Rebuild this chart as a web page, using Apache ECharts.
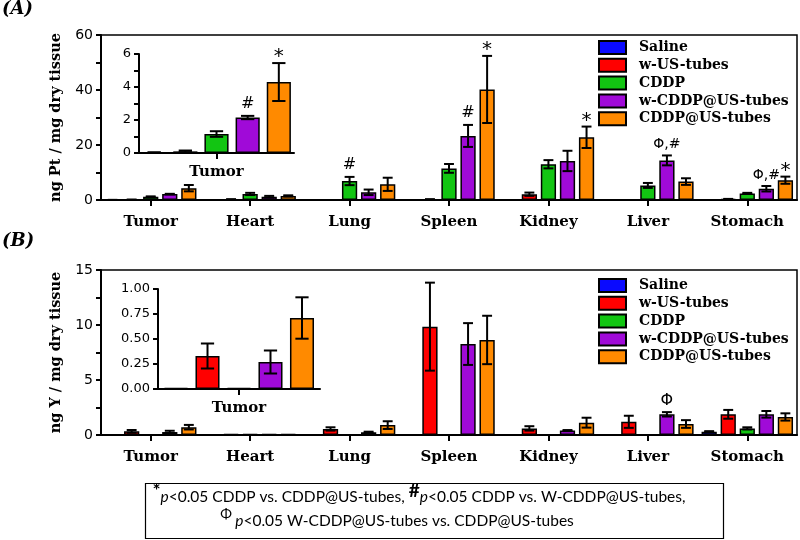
<!DOCTYPE html>
<html>
<head>
<meta charset="utf-8">
<script src="https://cdn.jsdelivr.net/npm/echarts@6/dist/echarts.min.js"></script>
<style>html,body{margin:0;padding:0;background:#fff}#c{width:800px;height:540px}</style>
</head>
<body>
<div id="c"></div>
<script>
// ---------- data ----------
const categories = ['Tumor', 'Heart', 'Lung', 'Spleen', 'Kidney', 'Liver', 'Stomach'];
const groups = ['Saline', 'w-US-tubes', 'CDDP', 'w-CDDP@US-tubes', 'CDDP@US-tubes'];

// Panel A: ng Pt / mg dry tissue
const ptSaline    = [0.03, 0,   0,   0.1,  0.1,  0,    0.05];
const ptWUS       = [0.1,  0.2, 0,   0.2,  2.1,  0,    0.3];
const ptCDDP      = [1.15, 2.2, 6.9, 11.5, 13.0, 5.3,  2.4];
const ptWCDDP     = [2.15, 1.2, 2.8, 23.3, 14.2, 14.4, 4.1];
const ptCDDPUS    = [4.3,  1.5, 5.7, 40.2, 22.8, 6.7,  7.2];
const ptSalineErr = [0.01, 0,   0,   0,    0,    0,    0];
const ptWUSErr    = [0.05, 0.1, 0,   0.1,  0.6,  0,    0.1];
const ptCDDPErr   = [0.17, 0.4, 1.5, 1.6,  1.5,  0.9,  0.2];
const ptWCDDPErr  = [0.1,  0.3, 1.0, 4.0,  3.7,  1.8,  1.0];
const ptCDDPUSErr = [1.15, 0.2, 2.4, 12.2, 3.9,  1.2,  1.3];
const ptTicks = [0, 20, 40, 60];
const ptInsetTicks = [0, 2, 4, 6];
const ptMarks = [
  ['Lung', 'CDDP', '#'], ['Spleen', 'w-CDDP@US-tubes', '#'], ['Spleen', 'CDDP@US-tubes', '*'],
  ['Kidney', 'CDDP@US-tubes', '*'], ['Liver', 'w-CDDP@US-tubes', 'Φ,#'],
  ['Stomach', 'w-CDDP@US-tubes', 'Φ,#'], ['Stomach', 'CDDP@US-tubes', '*']
];
const ptInsetMarks = [['Tumor', 'w-CDDP@US-tubes', '#'], ['Tumor', 'CDDP@US-tubes', '*']];

// Panel B: ng Y / mg dry tissue
const ySaline    = [0.01, 0,    0,    0.05, 0,    0,    0.3];
const yWUS       = [0.33, 0.08, 0.55, 9.85, 0.6,  1.2,  1.88];
const yCDDP      = [0.01, 0.08, 0.03, 0.05, 0.02, 0,    0.6];
const yWCDDP     = [0.27, 0.08, 0.25, 8.27, 0.4,  1.88, 1.88];
const yCDDPUS    = [0.71, 0.08, 0.9,  8.64, 1.12, 1.0,  1.64];
const ySalineErr = [0,    0,    0,    0,    0,    0,    0.05];
const yWUSErr    = [0.125,0,    0.15, 4.0,  0.2,  0.55, 0.4];
const yCDDPErr   = [0,    0,    0,    0,    0,    0,    0.1];
const yWCDDPErr  = [0.115,0,    0.05, 1.9,  0.05, 0.2,  0.3];
const yCDDPUSErr = [0.207,0,    0.35, 2.2,  0.45, 0.35, 0.33];
const yTicks = [0, 5, 10, 15];
const yInsetTicks = [0, 0.25, 0.5, 0.75, 1.0];
const yMarks = [['Liver', 'w-CDDP@US-tubes', 'Φ']];

// ---------- styles ----------
const colors = ['#0a0aff', '#ff0000', '#12c512', '#a00ad8', '#ff8a00'];
const serifBold = { fontFamily: 'DejaVu Serif', fontWeight: 'bold', color: '#000' };

const ptMeans = [ptSaline, ptWUS, ptCDDP, ptWCDDP, ptCDDPUS];
const ptErrs = [ptSalineErr, ptWUSErr, ptCDDPErr, ptWCDDPErr, ptCDDPUSErr];
const yMeans = [ySaline, yWUS, yCDDP, yWCDDP, yCDDPUS];
const yErrs = [ySalineErr, yWUSErr, yCDDPErr, yWCDDPErr, yCDDPUSErr];

function barX(api, c, s, catGap, barGap) {
  const band = api.size([1, 0])[0];
  const bw = band * (1 - catGap) / (5 + 4 * barGap);
  return { x: api.coord([c, 0])[0] + (s - 2) * bw * (1 + barGap), bw: bw };
}
function errRender(catGap, barGap, capFrac) {
  return function (params, api) {
    const c = api.value(0), v = api.value(1), e = api.value(2), s = api.value(3);
    if (!(e > 0)) return { type: 'group', children: [] };
    const p = barX(api, c, s, catGap, barGap);
    const yt = api.coord([c, v + e])[1];
    const yl = api.coord([c, Math.max(0, v - e)])[1];
    const h = p.bw * capFrac / 2;
    const st = { stroke: '#000', lineWidth: 2 };
    return { type: 'group', children: [
      { type: 'line', shape: { x1: p.x, y1: yt, x2: p.x, y2: yl }, style: st },
      { type: 'line', shape: { x1: p.x - h, y1: yt, x2: p.x + h, y2: yt }, style: st },
      { type: 'line', shape: { x1: p.x - h, y1: yl, x2: p.x + h, y2: yl }, style: st }
    ] };
  };
}
function markRender(catGap, barGap, marks) {
  return function (params, api) {
    const c = api.value(0), top = api.value(1), s = api.value(2);
    const t = marks[params.dataIndex][2];
    const p = barX(api, c, s, catGap, barGap);
    const y = api.coord([c, top])[1];
    const star = t === '*';
    const multi = t.length > 1;
    return { type: 'text', style: {
      text: t, x: p.x, y: y - (star ? 6 : (t === '#' ? 12 : 11)),
      align: 'center', verticalAlign: 'middle', fill: '#000',
      font: (star ? '20px' : (multi ? '14px' : '16px')) + ' "DejaVu Sans"'
    } };
  };
}

function panelSeries(xi, yi, means, errs, catIdx, catGap, barGap, capFrac, marks) {
  const out = [];
  const errData = [];
  groups.forEach((g, s) => {
    out.push({
      type: 'bar', name: g, xAxisIndex: xi, yAxisIndex: yi, z: 2,
      barGap: (barGap * 100) + '%', barCategoryGap: (catGap * 100) + '%',
      itemStyle: { color: colors[s], borderColor: '#000', borderWidth: 1.5 },
      data: catIdx.map(i => means[s][i])
    });
    catIdx.forEach((i, k) => errData.push([k, means[s][i], errs[s][i], s]));
  });
  out.push({ type: 'custom', xAxisIndex: xi, yAxisIndex: yi, z: 3, silent: true,
    encode: { x: 0, y: 1 }, renderItem: errRender(catGap, barGap, capFrac), data: errData });
  if (marks && marks.length) {
    const md = marks.map(m => {
      const i = categories.indexOf(m[0]), s = groups.indexOf(m[1]);
      return [catIdx.indexOf(i), means[s][i] + errs[s][i], s];
    });
    out.push({ type: 'custom', xAxisIndex: xi, yAxisIndex: yi, z: 4, silent: true,
      encode: { x: 0, y: 1 }, renderItem: markRender(catGap, barGap, marks), data: md });
  }
  return out;
}

function xAx(gi, data, margin) {
  return { type: 'category', gridIndex: gi, data: data,
    axisLine: { lineStyle: { color: '#000', width: 2 } },
    axisTick: { show: true, alignWithLabel: true, length: 6, lineStyle: { color: '#000', width: 2 } },
    axisLabel: Object.assign({ fontSize: 15, margin: margin }, serifBold) };
}
function yAx(gi, max, interval, ticks, fmt, fs) {
  return { type: 'value', gridIndex: gi, min: 0, max: max, interval: interval,
    axisLine: { show: true, lineStyle: { color: '#000', width: 2 } },
    axisTick: { show: true, length: 5, lineStyle: { color: '#000', width: 2 } },
    splitLine: { show: false },
    axisLabel: { color: '#000', fontFamily: 'DejaVu Sans', fontSize: fs, margin: 8,
      formatter: v => ticks.some(t => Math.abs(t - v) < 1e-9) ? fmt(v) : '' } };
}

const allIdx = categories.map((c, i) => i);
const yA = yAx(0, 60, 10, ptTicks, v => String(v), 14);
yA.name = 'ng Pt / mg dry tissue'; yA.nameLocation = 'middle'; yA.nameGap = 37;
yA.nameTextStyle = Object.assign({ fontSize: 14.5 }, serifBold);
const yB = yAx(1, 15, 2.5, yTicks, v => String(v), 14);
yB.name = 'ng Y / mg dry tissue'; yB.nameLocation = 'middle'; yB.nameGap = 37;
yB.nameTextStyle = Object.assign({ fontSize: 14.5 }, serifBold);
const yAi = yAx(2, 6, 1, ptInsetTicks, v => String(v), 13);
const yBi = yAx(3, 1, 0.25, yInsetTicks, v => v.toFixed(2), 13);

function legendAt(top) {
  return { orient: 'vertical', left: 598, top: top, itemWidth: 27, itemHeight: 13, itemGap: 2.8,
    icon: 'rect', data: groups, selectedMode: false, padding: 0,
    textStyle: Object.assign({ fontSize: 14, padding: [0, 0, 0, 8] }, serifBold) };
}

const fn = { fontFamily: 'Lato', fontSize: 15.5, fill: '#000', verticalAlign: 'bottom' };
const option = {
  animation: false,
  grid: [
    { left: 101, top: 35, width: 696, height: 165, show: true, borderColor: '#000', borderWidth: 1.5 },
    { left: 101, top: 270, width: 696, height: 165, show: true, borderColor: '#000', borderWidth: 1.5 },
    { left: 139, top: 54, width: 155, height: 99 },
    { left: 158, top: 289, width: 162, height: 100 }
  ],
  xAxis: [xAx(0, categories, 15), xAx(1, categories, 15), xAx(2, [categories[0]], 12), xAx(3, [categories[0]], 12)],
  yAxis: [yA, yB, yAi, yBi],
  legend: [legendAt(40), legendAt(278)],
  graphic: [
    { type: 'text', left: 2, top: 0, style: { text: '(A)', font: 'italic bold 18px "DejaVu Serif"', fill: '#000' } },
    { type: 'text', left: 2, top: 232, style: { text: '(B)', font: 'italic bold 18px "DejaVu Serif"', fill: '#000' } },
    { type: 'rect', left: 143, top: 481, shape: { width: 578, height: 55 }, style: { fill: 'none', stroke: '#000', lineWidth: 1.2 } },
    { type: 'text', x: 419, y: 493, style: {
      text: '{s|*}{i|p}{n|<0.05 CDDP vs. CDDP@US-tubes, }{s|#}{i|p}{n|<0.05 CDDP vs. W-CDDP@US-tubes,}',
      align: 'center', verticalAlign: 'middle',
      rich: {
        s: { fontFamily: 'Lato', fontWeight: 'bold', fontSize: 19, fill: '#000', padding: [0, 0, 5, 0], verticalAlign: 'bottom' },
        i: Object.assign({}, fn, { fontStyle: 'italic' }),
        n: fn
      } } },
    { type: 'text', x: 397, y: 518, style: {
      text: '{s|Φ} {i|p}{n|<0.05 W-CDDP@US-tubes vs. CDDP@US-tubes}',
      align: 'center', verticalAlign: 'middle',
      rich: {
        s: { fontFamily: 'Lato', fontSize: 14, fill: '#000', padding: [0, 0, 7, 0], verticalAlign: 'bottom' },
        i: Object.assign({}, fn, { fontStyle: 'italic' }),
        n: fn
      } } }
  ],
  series: [].concat(
    panelSeries(0, 0, ptMeans, ptErrs, allIdx, 0.08, 0.25, 0.65, ptMarks),
    panelSeries(1, 1, yMeans, yErrs, allIdx, 0.08, 0.25, 0.65, yMarks),
    panelSeries(2, 2, ptMeans, ptErrs, [0], 0.04, 0.29, 0.55, ptInsetMarks),
    panelSeries(3, 3, yMeans, yErrs, [0], 0.074, 0.31, 0.55, [])
  )
};
echarts.init(document.getElementById('c'), null, { renderer: 'canvas' }).setOption(option);
</script>
</body>
</html>
